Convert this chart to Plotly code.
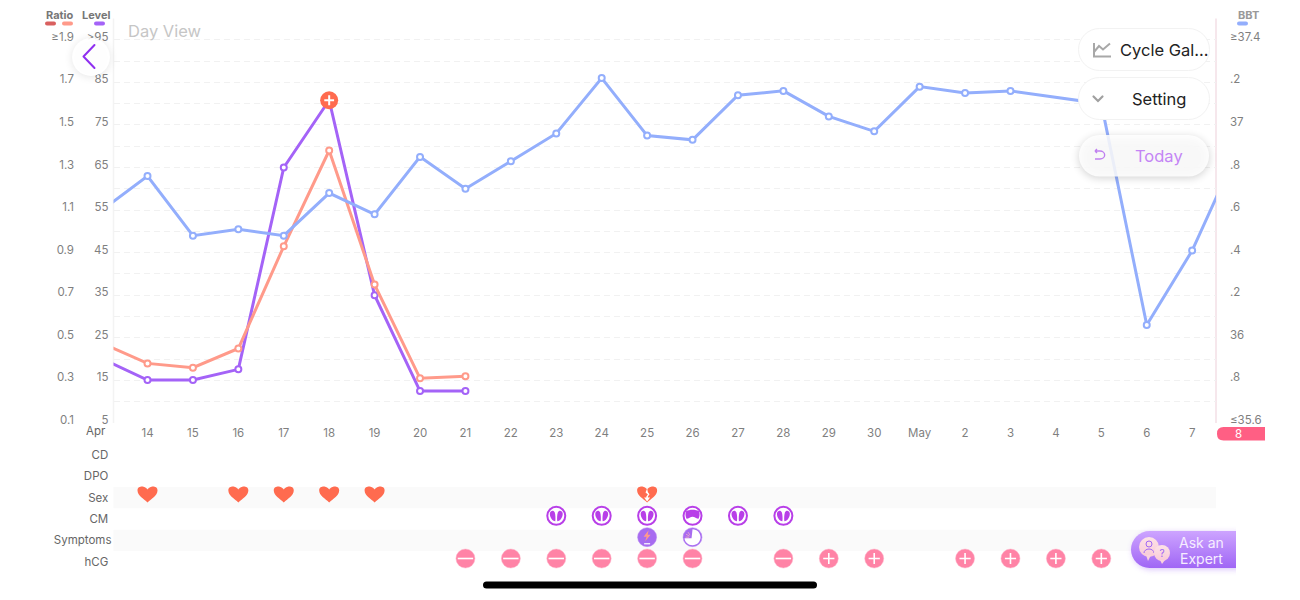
import base64
import plotly.graph_objects as go

# ---------- data ----------
day_labels = ["14","15","16","17","18","19","20","21","22","23","24","25","26","27","28","29","30",
              "May","2","3","4","5","6","7"]
series_x = [-1] + list(range(0, 25))   # -1 is the day before Apr 14, 24 is May 8
bbt = [36.60,36.76,36.48,36.51,36.48,36.68,36.58,36.85,36.70,36.83,36.96,37.22,36.95,36.93,37.14,37.16,
       37.04,36.97,37.18,37.15,37.16,None,37.10,36.06,36.41,36.88]
level_x = [-1,0,1,2,3,4,5,6,7]
level = [20.1,15.1,15.1,17.6,65,80.8,35,12.5,12.5]
ratio_x = [-1,0,1,2,3,4,5,6,7]
ratio = [0.475,0.38,0.36,0.45,0.93,1.38,0.75,0.31,0.32]
peak_x = [4]
peak_level = [80.8]

level_ticks = [95,85,75,65,55,45,35,25,15,5]
level_text = [">95","85","75","65","55","45","35","25","15","5"]
ratio_ticks = [1.9,1.7,1.5,1.3,1.1,0.9,0.7,0.5,0.3,0.1]
ratio_text = ["≥1.9","1.7","1.5","1.3","1.1","0.9","0.7","0.5","0.3","0.1"]
bbt_ticks = [37.4,37.2,37.0,36.8,36.6,36.4,36.2,36.0,35.8,35.6]
bbt_text = ["≥37.4",".2","37",".8",".6",".4",".2","36",".8","≤35.6"]

rows = ["hCG","Symptoms","CM","Sex","DPO","CD"]
sex_x = [0,2,3,4,5]
sex_broken_x = [11]
cm_x = [9,10,11,13,14]
cm_alt_x = [12]
symptom_bolt_x = [11]
symptom_pie_x = [12]
hcg_neg_x = [7,8,9,10,11,12,14]
hcg_pos_x = [15,16,18,19,20,21]

# ---------- colours ----------
C_BBT, C_LEVEL, C_RATIO = "#93aefc", "#a463f7", "#ff9a8a"
C_RED, C_PINK, C_CM = "#ff6b4f", "#ff83a6", "#b83fe8"
TXT = "#7f7f7f"
FONT = "Inter"
W, H = 1300, 600

fig = go.Figure()

def line(x, y, color, name, yaxis):
    fig.add_trace(go.Scatter(x=x, y=y, mode="lines+markers", name=name, yaxis=yaxis, connectgaps=True,
                             line=dict(color=color, width=3),
                             marker=dict(symbol="circle", size=6, color="white", line=dict(color=color, width=2))))

line(series_x, bbt, C_BBT, "BBT", "y3")
line(ratio_x, ratio, C_RATIO, "Ratio", "y2")
line(level_x, level, C_LEVEL, "Level", "y")
fig.add_trace(go.Scatter(x=peak_x, y=peak_level, mode="markers", yaxis="y", cliponaxis=False,
                         marker=dict(size=18, color=C_RED)))
fig.add_trace(go.Scatter(x=peak_x, y=peak_level, mode="markers", yaxis="y", cliponaxis=False,
                         marker=dict(size=7, symbol="cross-thin", color="white", line=dict(color="white", width=2))))

def row_marker(x, row, **m):
    fig.add_trace(go.Scatter(x=x, y=[row]*len(x), mode="markers", xaxis="x2", yaxis="y4", cliponaxis=False, marker=m))

row_marker(cm_x + cm_alt_x, "CM", size=18, color="white", line=dict(color=C_CM, width=2))
row_marker(symptom_bolt_x + symptom_pie_x, "Symptoms", size=19, color="#a76bf0", line=dict(color="#b98af3", width=0.5))
row_marker(hcg_neg_x + hcg_pos_x, "hCG", size=19, color=C_PINK, line=dict(color="#ffb3c8", width=0.5))
row_marker(hcg_neg_x, "hCG", size=11, symbol="line-ew", line=dict(color="white", width=1.6))
row_marker(hcg_pos_x, "hCG", size=8, symbol="cross-thin", color="white", line=dict(color="white", width=1.6))

# ---------- layout helpers ----------
x0_px, x1_px = 113.5, 1216.0
step = 45.42
top_px, bot_px = 18.5, 423.0
rtop_px, rbot_px = 444.0, 572.0
x_range = [(x0_px-147.5)/step, (x1_px-147.5)/step]
grid = "#f1f1f1"

common_y = dict(showline=False, zeroline=False, ticks="", showgrid=False, automargin=False,
                tickfont=dict(size=11.5, color=TXT, family=FONT), ticklabelshift=-3)

fig.update_layout(
    width=W, height=H, autosize=False, margin=dict(l=0, r=0, t=0, b=0, autoexpand=False),
    paper_bgcolor="white", plot_bgcolor="rgba(0,0,0,0)", showlegend=False,
    font=dict(family=FONT, color=TXT, size=11.5),
    xaxis=dict(domain=[x0_px/W, x1_px/W], range=x_range, anchor="y", tickmode="array", automargin=False,
               tickvals=list(range(len(day_labels))), ticktext=day_labels, showgrid=False, zeroline=False,
               ticks="", showline=False, ticklabelstandoff=1, tickfont=dict(size=11.5, color=TXT, family=FONT)),
    xaxis2=dict(domain=[x0_px/W, x1_px/W], range=x_range, anchor="y4", showticklabels=False, automargin=False,
                showgrid=False, zeroline=False, showline=False, ticks=""),
    yaxis=dict(domain=[1-bot_px/H, 1-top_px/H], range=[5,100], tickmode="array", tickvals=level_ticks,
               ticktext=level_text, ticklabelstandoff=4,
               minor=dict(tick0=0, dtick=5, showgrid=True, gridcolor=grid, griddash="6px,4px", gridwidth=1, ticks=""),
               **common_y),
    yaxis2=dict(overlaying="y", range=[0.1,2.0], anchor="free", position=74/W, side="left", tickmode="array",
                tickvals=ratio_ticks, ticktext=ratio_text, **common_y),
    yaxis3=dict(overlaying="y", range=[35.6,37.5], anchor="x", side="right", tickmode="array",
                tickvals=bbt_ticks, ticktext=bbt_text, ticklabelstandoff=13, **common_y),
    yaxis4=dict(domain=[1-rbot_px/H, 1-rtop_px/H], type="category", categoryorder="array", categoryarray=rows,
                range=[(558.5-rbot_px)/21.33, (558.5-rtop_px)/21.33], showgrid=False, zeroline=False, showline=False,
                tickmode="array", tickvals=rows,
                ticktext=[r if r == "Symptoms" else r + "\u00a0" for r in rows],
                ticks="", ticklabelstandoff=1, ticklabelshift=3, automargin=False,
                tickfont=dict(size=11.5, color="#666", family=FONT)),
)

shapes = []
# row bands
for i in (3, 1):
    shapes.append(dict(type="rect", xref="paper", yref="y4", x0=x0_px/W, x1=x1_px/W, y0=i-0.65, y1=i+0.35,
                       fillcolor="#fafafa", line_width=0, layer="below"))
# axis edge lines
shapes.append(dict(type="line", xref="paper", yref="paper", x0=x0_px/W, x1=x0_px/W, y0=1-bot_px/H, y1=1-top_px/H,
                   line=dict(color="#f3f3f3", width=1.5), layer="below"))
shapes.append(dict(type="line", xref="paper", yref="paper", x0=x1_px/W, x1=x1_px/W, y0=1-bot_px/H, y1=1-top_px/H,
                   line=dict(color="#f3dfe6", width=1.5), layer="below"))

def rounded(x0, y0, x1, y1, rl, rr):
    """Pill path in page pixels converted to paper fractions."""
    X = lambda v: v/W
    Y = lambda v: 1-v/H
    return (f"M {X(x0+rl)},{Y(y0)} L {X(x1-rr)},{Y(y0)} Q {X(x1)},{Y(y0)} {X(x1)},{Y(y0+rr)} "
            f"L {X(x1)},{Y(y1-rr)} Q {X(x1)},{Y(y1)} {X(x1-rr)},{Y(y1)} L {X(x0+rl)},{Y(y1)} "
            f"Q {X(x0)},{Y(y1)} {X(x0)},{Y(y1-rl)} L {X(x0)},{Y(y0+rl)} Q {X(x0)},{Y(y0)} {X(x0+rl)},{Y(y0)} Z")

# legend swatches
for x0, x1, c in [(45,56,"#d9605f"),(62,73,C_RATIO),(94,105,C_LEVEL),(1237,1248,C_BBT)]:
    shapes.append(dict(type="path", xref="paper", yref="paper", path=rounded(x0, 21.5, x1, 25.5, 2, 2),
                       fillcolor=c, line_width=0))
# today pill (May 8)
shapes.append(dict(type="path", xref="paper", yref="paper", path=rounded(1217, 427, 1265, 440.5, 6.5, 0),
                   fillcolor="#ff5f84", line_width=0))

# row icons: fixed-size pixel glyphs anchored at data positions
def icon(x_list, row, path, fill=None, stroke=None, sw=1):
    for xv in x_list:
        shapes.append(dict(type="path", xref="x2", yref="y4", xsizemode="pixel", ysizemode="pixel",
                           xanchor=xv, yanchor=rows.index(row), path=path, layer="above",
                           fillcolor=fill or "rgba(0,0,0,0)",
                           line=dict(color=stroke or "rgba(0,0,0,0)", width=sw if stroke else 0)))

HEART = ("M0,-8 C-4,-4 -10,-1 -10,4 C-10,8 -6,8.2 -4,7.8 C-2,7.4 -0.5,6 0,5 "
         "C0.5,6 2,7.4 4,7.8 C6,8.2 10,8 10,4 C10,-1 4,-4 0,-8 Z")
icon(sex_x + sex_broken_x, "Sex", HEART, C_RED)
icon(sex_broken_x, "Sex", "M0,6 L-1.6,2 L0.8,0 L-0.8,-2 L-0.8,-3 L-3,-3 L0,-7 L3,-3 L0.8,-3 L0.8,-2 L2.4,0.2 L0.8,2.2 Z", "white")
OVALS = ("M-1,-5.5 C-4,-5.5 -6.8,-1 -6.4,2.5 C-6,5.5 -2.5,6 -1.6,3.5 C-0.8,1 -0.6,-3 -1,-5.5 Z "
         "M1,-5.5 C4,-5.5 6.8,-1 6.4,2.5 C6,5.5 2.5,6 1.6,3.5 C0.8,1 0.6,-3 1,-5.5 Z")
icon(cm_x, "CM", OVALS, C_CM)
icon(cm_alt_x, "CM", "M-6.5,4.5 C-3,6.5 3,6.5 6.5,4.5 C7.5,2 7,-1 6,-3 C4,-3 2,-1 0,-1 C-2,-1 -4,-3 -6,-3 C-7,-1 -7.5,2 -6.5,4.5 Z", C_CM)
icon(symptom_bolt_x, "Symptoms", "M1.5,7 L-3.5,0.5 L-0.5,0.5 L-2,-4 L3.5,2.5 L0.5,2.5 Z", "#ff9a8a")
icon(symptom_bolt_x, "Symptoms", "M-3,-6 L3,-6 L3,-7.2 L-3,-7.2 Z", "white")
icon(symptom_pie_x, "Symptoms", "M-1,-1 L0,8 C4.4,8 8,4.4 8,0 C8,-4.4 4.4,-8 0,-8 C-4.4,-8 -8,-4.4 -8,-1 Z", "white")
icon(symptom_pie_x, "Symptoms", "M-6.5,3 L-3,1 M-7,0 L-3.5,0 M-4.5,5 L-2.5,2", None, "#f7b0c0", 0.8)
fig.update_layout(shapes=shapes)

def ann(x, y, text, size=11.5, color=TXT, anchor="center", bold=False, family=FONT):
    return dict(x=x/W, y=1-y/H, xref="paper", yref="paper", text=f"<b>{text}</b>" if bold else text, showarrow=False,
                xanchor=anchor, yanchor="middle", font=dict(size=size, color=color, family=family))

annotations = [
    ann(60, 14.5, "Ratio", 11, "#777", bold=True), ann(96.5, 14.5, "Level", 11, "#777", bold=True),
    ann(1248.5, 14.5, "BBT", 11, "#999", bold=True),
    ann(126, 31.5, "Day View", 16.5, "#c6c6c6", "left"),
    ann(108, 431, "Apr", 11.5, "#666", "right"),
    ann(1238, 433.5, "8", 11.5, "white"),
    ann(1164, 50, "Cycle Gal...", 16.5, "#222"),
    ann(1159, 99, "Setting", 16.5, "#222"),
    ann(1159, 156, "Today", 16.5, "#c485f5"),
    ann(1201, 542, "Ask an", 14, "#f6edff"),
    ann(1201, 558, "Expert", 14, "#f6edff"),
]
fig.update_layout(annotations=annotations)

# ---------- app chrome (buttons over the chart) ----------
svg = f'''<svg xmlns="http://www.w3.org/2000/svg" width="{W}" height="{H}" viewBox="0 0 {W} {H}">
<defs>
<filter id="s" x="-30%" y="-50%" width="160%" height="220%"><feGaussianBlur stdDeviation="4"/></filter>
<filter id="g" x="-20%" y="-50%" width="140%" height="200%"><feGaussianBlur stdDeviation="3"/></filter>
<linearGradient id="a" x1="0" y1="0" x2="0" y2="1"><stop offset="0" stop-color="#cda4ff"/><stop offset="1" stop-color="#a066f5"/></linearGradient>
<linearGradient id="b" x1="0" y1="0" x2="0" y2="1"><stop offset="0" stop-color="#fde3e6"/><stop offset="1" stop-color="#f9c9d8"/></linearGradient>
<clipPath id="c"><rect x="1100" y="520" width="136" height="60"/></clipPath>
</defs>
<circle cx="91" cy="58" r="19" fill="#000" opacity="0.10" filter="url(#s)"/>
<circle cx="91" cy="57" r="19" fill="#fff" fill-opacity="0.95"/>
<path d="M94.5 45 L83.5 56.5 L94.5 68" fill="none" stroke="#8f2ff0" stroke-width="2" stroke-linecap="round" stroke-linejoin="round"/>
<rect x="1078.5" y="28.5" width="131" height="42" rx="21" fill="#fff" stroke="#f2f2f2"/>
<rect x="1078.5" y="77.5" width="131" height="42" rx="21" fill="#fff" stroke="#f2f2f2"/>
<rect x="1079" y="137" width="130" height="41" rx="20.5" fill="#000" opacity="0.18" filter="url(#s)"/>
<rect x="1079" y="135" width="130" height="41.5" rx="20.5" fill="#fff" fill-opacity="0.85"/>
<path d="M1094 43 v13.5 h17 M1094 52 l5 -6 l4 3.5 l7 -6" fill="none" stroke="#a8a8a8" stroke-width="2"/>
<path d="M1093.5 96.5 l4.5 4.5 l4.5 -4.5" fill="none" stroke="#a0a0a0" stroke-width="2.2" stroke-linecap="round"/>
<path d="M1095 151 l2 -2 M1095 151 l2 2 M1095 151 h5 a3.5 3 0 0 1 0 8 h-5" fill="none" stroke="#c080f0" stroke-width="1.4"/>
<g clip-path="url(#c)">
<rect x="1133" y="533" width="120" height="36" rx="18" fill="#a066f5" opacity="0.45" filter="url(#g)"/>
<rect x="1131" y="531" width="125" height="37" rx="18.5" fill="url(#a)"/>
<circle cx="1149" cy="547" r="10" fill="url(#b)"/><path d="M1146 555 l2 6 l3 -6 Z" fill="#fbd3dd"/>
<circle cx="1149" cy="544" r="3" fill="none" stroke="#a066f5"/>
<path d="M1144 553 a5 4 0 0 1 10 0" fill="none" stroke="#a066f5"/>
<circle cx="1162" cy="553" r="8" fill="url(#b)"/><path d="M1160 560 l2 4 l3 -4 Z" fill="#fbd3dd"/>
<text x="1162" y="557" font-size="10" text-anchor="middle" fill="#a066f5" font-family="Inter">?</text>
</g>
<rect x="483" y="581.5" width="334" height="7" rx="3.5" fill="#000"/>
</svg>'''
uri = "data:image/svg+xml;base64," + base64.b64encode(svg.encode()).decode()
fig.update_layout(images=[dict(source=uri, xref="paper", yref="paper", x=0, y=1, sizex=1, sizey=1,
                               xanchor="left", yanchor="top", sizing="stretch", layer="above")])

fig.write_html("out.html", config=dict(displayModeBar=False),
               post_script="document.body.style.margin='0';document.body.style.overflow='hidden';")
